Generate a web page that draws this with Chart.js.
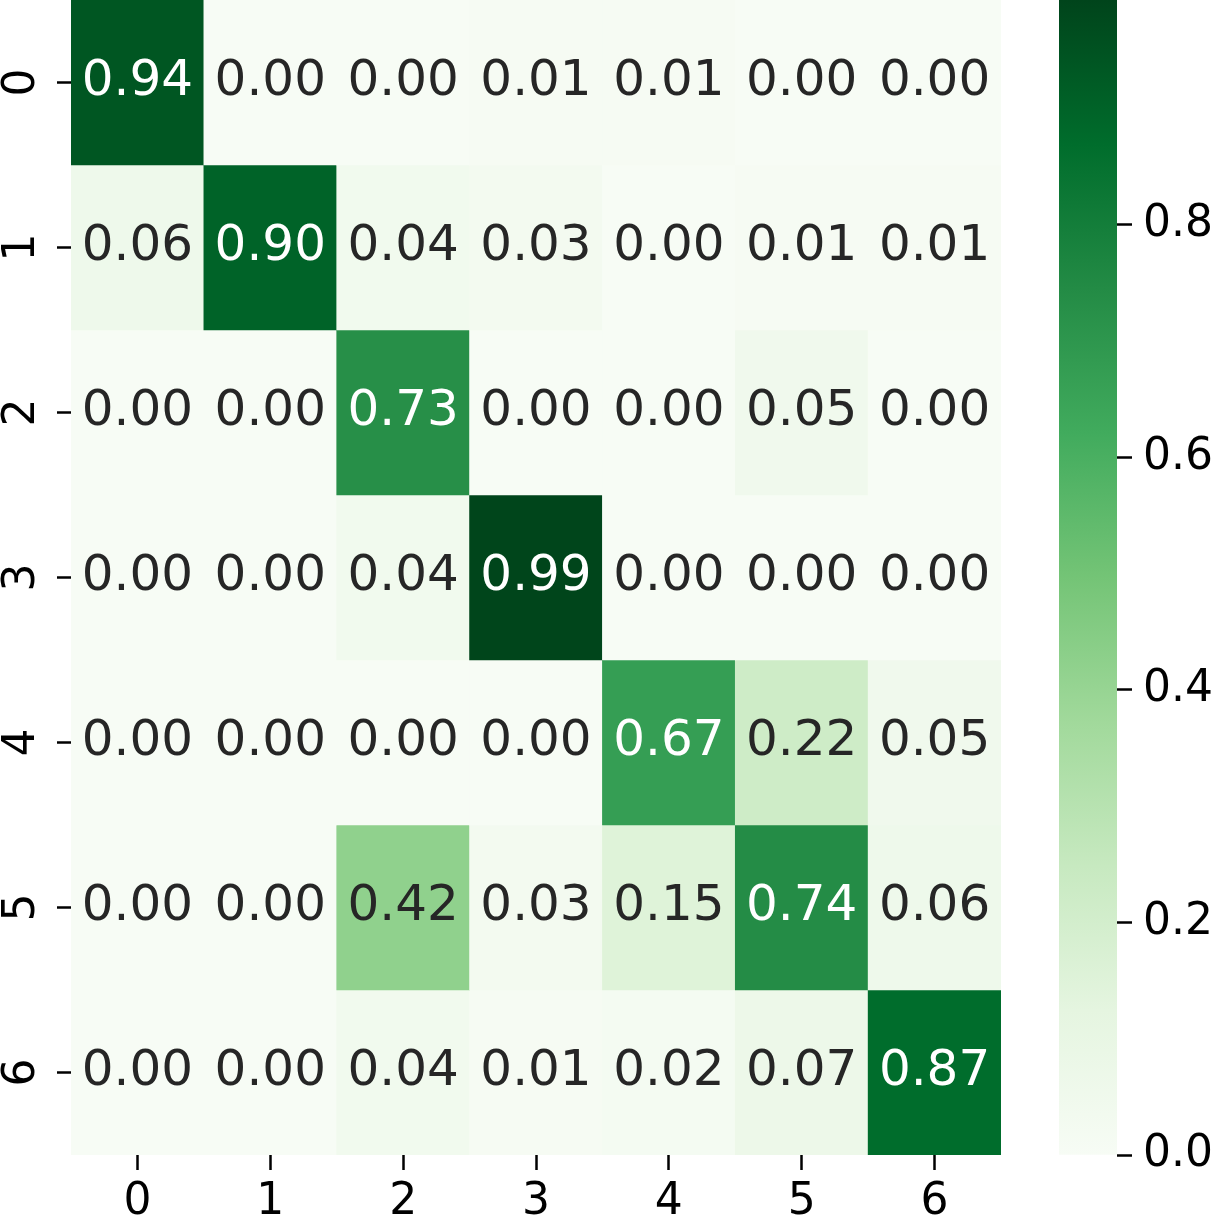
<!DOCTYPE html>
<html>
<head>
<meta charset="utf-8">
<script src="https://cdn.jsdelivr.net/npm/chart.js@4.4.1/dist/chart.umd.min.js"></script>
<style>
    html, body { margin: 0; padding: 0; background: #ffffff; }
    #wrap { position: relative; width: 1212px; height: 1226px; }
    #heatBox { position: absolute; left: 0; top: 0; width: 1040px; height: 1226px; }
    #barBox { position: absolute; left: 1040px; top: 0; width: 172px; height: 1226px; }
</style>
</head>
<body>
<div id="wrap">
    <div id="heatBox"><canvas id="heatChart"></canvas></div>
    <div id="barBox"><canvas id="colorBar"></canvas></div>
</div>
<script>
// confusion matrix values, one array per true-label row
const rowLabels = ['0', '1', '2', '3', '4', '5', '6'];
const colLabels = ['0', '1', '2', '3', '4', '5', '6'];
const row0 = [0.94, 0.00, 0.00, 0.01, 0.01, 0.00, 0.00];
const row1 = [0.06, 0.90, 0.04, 0.03, 0.00, 0.01, 0.01];
const row2 = [0.00, 0.00, 0.73, 0.00, 0.00, 0.05, 0.00];
const row3 = [0.00, 0.00, 0.04, 0.99, 0.00, 0.00, 0.00];
const row4 = [0.00, 0.00, 0.00, 0.00, 0.67, 0.22, 0.05];
const row5 = [0.00, 0.00, 0.42, 0.03, 0.15, 0.74, 0.06];
const row6 = [0.00, 0.00, 0.04, 0.01, 0.02, 0.07, 0.87];
const rows = [row0, row1, row2, row3, row4, row5, row6];

// colour scale
const vmin = 0;
const vmax = 0.9935;
const colorbarTicks = [0.0, 0.2, 0.4, 0.6, 0.8];

// matplotlib "Greens"
const greens = ['#f7fcf5', '#e5f5e0', '#c7e9c0', '#a1d99b', '#74c476', '#41ab5d', '#238b45', '#006d2c', '#00441b'];

const FONT = "'DejaVu Sans', sans-serif";

function hexToRgb(h) {
    return [parseInt(h.slice(1, 3), 16), parseInt(h.slice(3, 5), 16), parseInt(h.slice(5, 7), 16)];
}

function greenRgb(v) {
    let t = (v - vmin) / (vmax - vmin);
    t = Math.max(0, Math.min(1, t));
    const pos = t * (greens.length - 1);
    const i = Math.min(Math.floor(pos), greens.length - 2);
    const f = pos - i;
    const a = hexToRgb(greens[i]);
    const b = hexToRgb(greens[i + 1]);
    return a.map((c, k) => Math.round(c + (b[k] - c) * f));
}

function greenCss(v) {
    const c = greenRgb(v);
    return `rgb(${c[0]}, ${c[1]}, ${c[2]})`;
}

// same rule seaborn uses to pick the annotation colour
function textColorFor(v) {
    const lin = greenRgb(v).map(c => {
        c = c / 255;
        return c <= 0.03928 ? c / 12.92 : Math.pow((c + 0.055) / 1.055, 2.4);
    });
    const lum = 0.2126 * lin[0] + 0.7152 * lin[1] + 0.0722 * lin[2];
    return lum > 0.408 ? '#262626' : '#ffffff';
}

// one floating-bar dataset per row
const heatDatasets = rows.map((vals, r) => ({
    label: rowLabels[r],
    data: vals.map(() => [r, r + 1]),
    values: vals,
    backgroundColor: vals.map(v => greenCss(v)),
    borderWidth: 0,
    borderSkipped: false,
    barPercentage: 1,
    categoryPercentage: 1,
    grouped: false
}));

const annotatePlugin = {
    id: 'annotate',
    afterDatasetsDraw(chart) {
        const ctx = chart.ctx;
        ctx.save();
        ctx.font = `50px ${FONT}`;
        ctx.textAlign = 'center';
        ctx.textBaseline = 'middle';
        chart.data.datasets.forEach((ds, r) => {
            const meta = chart.getDatasetMeta(r);
            meta.data.forEach((bar, j) => {
                const v = ds.values[j];
                ctx.fillStyle = textColorFor(v);
                ctx.fillText(v.toFixed(2), bar.x, (bar.y + bar.base) / 2);
            });
        });
        ctx.restore();
    }
};

// y tick labels are rotated like matplotlib's
const rotatedYLabels = {
    id: 'rotatedYLabels',
    afterDraw(chart) {
        const ctx = chart.ctx;
        const scale = chart.scales.y;
        ctx.save();
        ctx.font = `44px ${FONT}`;
        ctx.fillStyle = '#000000';
        ctx.textAlign = 'center';
        ctx.textBaseline = 'alphabetic';
        rowLabels.forEach((lab, i) => {
            const y = scale.getPixelForValue(i + 0.5);
            ctx.save();
            ctx.translate(34, y);
            ctx.rotate(-Math.PI / 2);
            ctx.fillText(lab, 0, 0);
            ctx.restore();
        });
        ctx.restore();
    }
};

new Chart(document.getElementById('heatChart'), {
    type: 'bar',
    data: { labels: colLabels, datasets: heatDatasets },
    options: {
        responsive: true,
        maintainAspectRatio: false,
        animation: false,
        layout: { padding: { left: 0, right: 39, top: 0, bottom: 0 } },
        plugins: { legend: { display: false }, tooltip: { enabled: false } },
        scales: {
            x: {
                type: 'category',
                offset: true,
                border: { display: false },
                grid: { drawOnChartArea: false, drawTicks: true, tickLength: 15, tickWidth: 2.5, tickColor: '#000000', offset: false },
                ticks: { color: '#000000', font: { family: FONT, size: 44 }, padding: 6, maxRotation: 0 },
                afterFit(scale) { scale.height = 71; }
            },
            y: {
                type: 'linear',
                min: 0,
                max: rows.length,
                reverse: true,
                border: { display: false },
                grid: { drawOnChartArea: false, drawTicks: true, tickLength: 14, tickWidth: 2.5, tickColor: '#000000' },
                ticks: { display: false },
                afterBuildTicks(scale) {
                    scale.ticks = rowLabels.map((l, i) => ({ value: i + 0.5 }));
                },
                afterFit(scale) { scale.width = 71; }
            }
        }
    },
    plugins: [annotatePlugin, rotatedYLabels]
});

// colour bar
new Chart(document.getElementById('colorBar'), {
    type: 'bar',
    data: {
        labels: [''],
        datasets: [{
            data: [[vmin, vmax]],
            borderWidth: 0,
            borderSkipped: false,
            barPercentage: 1,
            categoryPercentage: 1,
            backgroundColor(ctx) {
                const area = ctx.chart.chartArea;
                if (!area) return greens[4];
                const g = ctx.chart.ctx.createLinearGradient(0, area.bottom, 0, area.top);
                greens.forEach((c, i) => g.addColorStop(i / (greens.length - 1), c));
                return g;
            }
        }]
    },
    options: {
        responsive: true,
        maintainAspectRatio: false,
        animation: false,
        layout: { padding: { left: 19, right: 0, top: 0, bottom: 71 } },
        plugins: { legend: { display: false }, tooltip: { enabled: false } },
        scales: {
            x: { display: false },
            y: {
                position: 'right',
                min: vmin,
                max: vmax,
                border: { display: false },
                grid: { drawOnChartArea: false, drawTicks: true, tickLength: 15, tickWidth: 2.5, tickColor: '#000000' },
                ticks: {
                    color: '#000000',
                    font: { family: FONT, size: 44 },
                    padding: 11,
                    callback: v => Number(v).toFixed(1)
                },
                afterBuildTicks(scale) {
                    scale.ticks = colorbarTicks.map(v => ({ value: v }));
                },
                afterFit(scale) {
                    scale.width = 95;
                    scale.paddingTop = 0;
                    scale.paddingBottom = 0;
                }
            }
        }
    }
});
</script>
</body>
</html>
